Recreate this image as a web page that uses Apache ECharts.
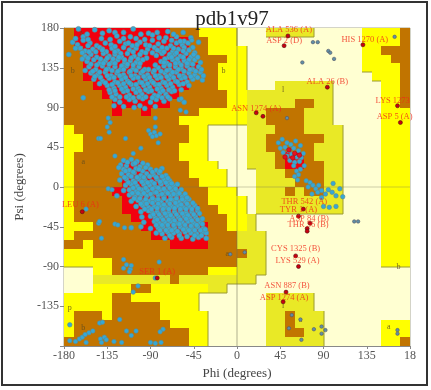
<!DOCTYPE html>
<html><head><meta charset="utf-8">
<style>html,body{margin:0;padding:0;background:#fff}#c{width:431px;height:390px;filter:blur(0.7px)}</style>
<script src="https://cdn.jsdelivr.net/npm/echarts@6/dist/echarts.min.js"></script>
</head><body><div id="c"></div>
<script>
const titleText = 'pdb1v97';
const xTickLabels = ['-180','-135','-90','-45','0','45','90','135','18'];
const yTickLabels = ['','-135','-90','-45','0','45','90','135','180'];
// 10-degree cells, top row psi 170..180, left column phi -180..-170
const regionRows = [
"BRRRRRRRRRRBBBYYYYPPPLLLLLPPPPPYYYYB",
"BRRRRRRRRRRRRBBYYYPPPPPPPPPPPPPYYYYB",
"BBRRRRRRRRRRRBBYYYYPPPPPPPPPPPPYYBBB",
"BBRRRRRRRRRRRBBBBYYPPPPPPPPPPPPYYYBB",
"BBRRRRRRRRRRRRBBYYYPPPPPPPPPPPPYYYYB",
"BBRRRRRRRRRRRBBBYYYPPPPPPPPPPPPPYYYB",
"BBBRRRRRRRRRRBBBYYYPPPLLLLLLPPPPPYYB",
"BBBBRRRRRRRRBBBBBYYLLLLLLLLLPPPPPYYB",
"BBBBBRRRRRRBBBBBBYYLLLLLBBLLPPPPPYYB",
"BBBBBRBBRBBBBBYYYYYLLBBBBLLLPPPPPYYY",
"BBBBBBBBBBBBYYYYYYYLLBBBBLLLPPPPPYYY",
"YBBBBBBBBBBBBYYPPPPLLLBBBLLLLPPPPYYY",
"YYBBBBBBBBBBBYYPPPPLLBBBBBBLLPPPPYYY",
"YYBBBBBBBBBBYYYPPPPLLBBBBBLLLPPPPYYY",
"YBBBBBBBBBBBYYYPPPPLLLBRRBLLLPPPPYYY",
"YBBBBBRRBBBBBYYYPPPLLLBRRBBLLPPPPYYY",
"YBBBBBRRRRBBBYYYYPPPLLLBBBBLLPPPPYYY",
"YBBBBBRRRRRBBBYYYPPPLLLLBBBLLPPPPYYY",
"YBBBBRRRRRRRBBBYYYPPLLLBLBBLLPPPPYYY",
"YBBBBBRRRRRRRBBYYYYPLLLLLLLLLPPPPYYY",
"YBBBBBRRRRRRRRBBYYYPLLLLLLLLLPPPPYYY",
"YBBBBBBRRRRRRRBBBYYLPPPPPPPPPPPPPYYY",
"YYYBBBBBRRRRRRRBBYYLPPPPPPPPPPPPPYYY",
"YBBBBBBBBRRRRRRBBBLLLPPPPPPPPPPPPYYY",
"BBYBBBBBBBBRRRRBBBLLLPPPPPPPPPPPPYYY",
"YYYBBBBBBBBBBBBBBBBLLPPPPPPPPPPPPYYY",
"YYYYYBBBBBBBBBBBBBLLLPPPPPPPPPPPPYYY",
"PPPYYBBBBBBBBBBYYYLLLPPPPPPPPPPPPPPP",
"PPPLLLLLLLLBLLLLLLLLPPPPPPPPPPPPPPPP",
"PPPYYYYBBYYYYYYLLPPPPPPPPPPPPPPPPPPP",
"YYYYYBBYYYYYYYPPPPPPPLLLLLPPPPPPPPPP",
"YYYYYBBBBBYYYYPPPPPPPLLLLLPPPPPPPPPP",
"YBBBYBBBBBYYYYYPPPPPPLLBLLLPPPPPPPPP",
"YBBBBBBBBBBYYYYPPPPPPLLBLLLPPPPPPYYY",
"YBBBBBBBBBBBBYYPPPPPPLLBBLLPPPPPPYYY",
"BBBBBBBBBBBBBYYPPPPPPLLLLLLPPPPPPYYB"];

const betaResidues = [
[-165,179],[-148,178],[-133,177],[-127,175],[-108,179],[-72,176],[-92,174],
[-160,170],[-125,171],[-111,170],[-105,168],[-88,172],[-74,169],[-63,170],[-48,169],
[-171,164],[-166,161],[-160,166],[-153,163],[-146,160],[-137,163],[-131,161],[-122,165],[-116,162],[-109,160],[-101,164],[-95,161],[-88,166],[-82,162],[-76,165],[-69,160],[-63,163],[-57,161],[-40,164],
[-175,150],[-163,157],[-158,154],[-150,156],[-143,158],[-136,153],[-130,157],[-124,154],[-118,158],[-112,155],[-105,157],[-99,153],[-93,156],[-86,158],[-80,154],[-73,157],[-67,153],[-61,156],[-55,158],
[-158,148],[-152,150],[-146,147],[-139,151],[-133,148],[-127,150],[-120,147],[-114,151],[-107,148],[-101,150],[-94,146],[-84,149],[-78,151],[-71,147],[-65,150],[-59,148],[-53,151],[-48,147],
[-156,142],[-149,144],[-143,140],[-137,143],[-130,141],[-124,144],[-117,140],[-111,143],[-105,141],[-98,144],[-79,142],[-73,140],[-67,144],[-61,141],[-55,143],[-49,140],[-44,144],
[-154,136],[-147,133],[-140,137],[-134,134],[-127,136],[-121,133],[-115,137],[-108,134],[-102,136],[-96,133],[-82,135],[-76,137],[-70,133],[-64,136],[-58,134],[-52,137],[-46,133],[-40,136],
[-152,129],[-145,127],[-137,130],[-131,126],[-125,129],[-118,127],[-112,130],[-106,126],[-100,129],[-93,127],[-87,130],[-81,126],[-75,129],[-69,127],[-63,130],[-56,126],[-50,129],[-44,127],[-38,130],
[-149,122],[-140,120],[-133,123],[-127,119],[-120,122],[-114,120],[-108,123],[-101,119],[-95,122],[-89,120],[-83,123],[-77,119],[-71,122],[-64,120],[-58,123],[-52,119],[-46,122],[-36,121],
[-135,115],[-128,112],[-122,115],[-116,113],[-110,116],[-103,112],[-97,115],[-91,113],[-85,116],[-79,112],[-73,115],[-67,113],[-60,116],
[-132,107],[-126,105],[-118,108],[-112,104],[-105,107],[-99,105],[-92,108],[-86,104],[-80,107],[-74,105],[-68,108],
[-127,99],[-122,96],[-112,99],[-106,97],[-98,100],[-90,96],[-84,99],[-76,97],[-70,100],[-60,99],
[-160,101],[-128,92],[-118,91],[-107,90],[-101,92],[-96,89],[-85,91],[-55,96]];

const betaResiduesDense = [
[-156,173],[-140,174],[-118,175],[-100,173],[-83,175],[-66,173],[-56,175],
[-168,168],[-155,167],[-141,168],[-132,167],[-118,168],[-96,167],[-81,169],[-68,166],[-55,165],
[-168,157],[-155,160],[-140,156],[-127,159],[-113,163],[-104,161],[-91,160],[-78,158],[-66,157],[-59,165],[-51,163],[-46,158],
[-161,152],[-154,153],[-147,153],[-140,155],[-127,153],[-121,151],[-108,153],[-95,152],[-88,152],[-83,155],[-76,153],[-70,150],[-63,152],[-56,154],[-50,155],[-44,152],
[-161,145],[-155,146],[-142,145],[-135,146],[-129,145],[-123,147],[-117,144],[-110,146],[-103,145],[-75,145],[-68,147],[-62,145],[-56,147],[-50,144],[-45,150],[-41,147],
[-152,139],[-146,138],[-139,140],[-133,139],[-127,140],[-120,137],[-114,139],[-108,138],[-101,140],[-85,138],[-76,141],[-70,138],[-64,140],[-58,138],[-52,140],[-46,139],[-38,141],
[-158,132],[-150,131],[-143,130],[-136,133],[-130,132],[-124,131],[-118,133],[-111,131],[-105,132],[-98,131],[-92,133],[-86,132],[-79,131],[-73,132],[-67,130],[-61,133],[-55,131],[-49,133],[-43,131],[-37,133],
[-148,125],[-142,124],[-135,126],[-128,124],[-122,126],[-116,124],[-110,126],[-103,124],[-97,125],[-91,124],[-85,126],[-79,124],[-73,125],[-66,124],[-60,126],[-54,124],[-48,125],[-41,124],[-35,126],
[-143,117],[-137,118],[-130,116],[-124,118],[-118,117],[-112,118],[-105,116],[-99,118],[-93,117],[-87,118],[-81,116],[-75,118],[-69,117],[-62,119],[-56,117],[-50,115],
[-133,110],[-127,109],[-120,111],[-114,109],[-108,111],[-101,109],[-95,110],[-89,109],[-83,111],[-77,109],[-71,110],[-65,109],[-58,110],
[-130,102],[-122,102],[-115,102],[-108,101],[-102,102],[-95,102],[-88,101],[-82,103],[-78,101],[-72,102]];

const alphaResidues = [
[-118,30],[-110,31],[-104,29],[-98,27],[-121,25],[-115,24],[-108,26],[-101,23],[-93,25],
[-118,20],[-112,19],[-105,21],[-98,18],[-90,20],[-84,19],[-78,21],
[-120,15],[-113,14],[-107,16],[-100,13],[-94,15],[-87,14],[-81,16],[-74,13],
[-122,8],[-115,9],[-108,7],[-102,9],[-96,8],[-89,6],[-83,9],[-76,8],[-70,7],
[-116,2],[-110,3],[-104,1],[-97,3],[-91,2],[-85,0],[-79,3],[-72,2],[-66,1],
[-118,-4],[-112,-3],[-105,-5],[-99,-3],[-93,-4],[-86,-6],[-80,-3],[-74,-5],[-68,-4],[-62,-5],
[-125,-10],[-112,-9],[-106,-11],[-100,-9],[-94,-10],[-88,-12],[-82,-9],[-76,-11],[-69,-10],[-63,-9],[-57,-11],
[-110,-16],[-103,-15],[-97,-17],[-91,-16],[-85,-15],[-79,-17],[-72,-16],[-66,-15],[-60,-17],[-54,-16],[-50,-14],
[-105,-22],[-98,-21],[-92,-23],[-86,-22],[-80,-21],[-74,-23],[-68,-22],[-62,-21],[-56,-23],[-50,-22],[-44,-21],
[-100,-28],[-92,-27],[-88,-29],[-83,-28],[-77,-27],[-71,-29],[-65,-28],[-59,-27],[-53,-29],[-47,-28],[-41,-27],
[-99,-34],[-90,-33],[-85,-35],[-79,-34],[-73,-33],[-67,-35],[-61,-34],[-55,-33],[-49,-35],[-43,-34],
[-97,-40],[-86,-39],[-81,-41],[-75,-40],[-69,-39],[-63,-41],[-57,-40],[-51,-39],[-45,-41],[-38,-40],
[-110,-46],[-100,-45],[-90,-47],[-82,-46],[-77,-45],[-71,-47],[-65,-46],[-59,-45],[-53,-47],[-47,-46],[-41,-45],[-35,-47],
[-84,-52],[-78,-53],[-72,-51],[-66,-52],[-60,-53],[-54,-51],[-48,-52],[-42,-53],[-36,-51],[-32,-52],
[-75,-58],[-68,-57],[-58,-58],[-46,-59],[-40,-57],[-32,-58]];

const alphaResiduesDense = [
[-114,28],[-106,27],[-123,22],[-116,18],[-108,17],[-102,20],[-95,22],[-88,17],[-80,18],
[-117,11],[-110,12],[-104,11],[-97,11],[-91,12],[-84,11],[-78,12],[-72,10],
[-113,5],[-106,5],[-99,6],[-93,5],[-86,4],[-80,6],[-74,5],[-68,4],[-62,3],
[-108,-1],[-102,-2],[-95,-1],[-88,-2],[-82,-1],[-76,-2],[-70,-1],[-64,-2],[-58,-3],
[-109,-7],[-103,-7],[-97,-7],[-90,-8],[-84,-6],[-78,-8],[-72,-7],[-66,-8],[-60,-7],[-54,-8],
[-107,-13],[-101,-13],[-95,-14],[-88,-13],[-82,-14],[-76,-13],[-69,-14],[-63,-13],[-57,-14],[-52,-12],
[-100,-19],[-94,-19],[-88,-18],[-82,-19],[-76,-20],[-70,-19],[-64,-18],[-58,-20],[-52,-19],[-46,-18],
[-96,-25],[-89,-25],[-83,-24],[-77,-25],[-71,-25],[-65,-24],[-59,-25],[-53,-25],[-47,-25],[-41,-24],
[-87,-31],[-81,-31],[-75,-30],[-69,-32],[-63,-31],[-57,-30],[-51,-32],[-45,-31],[-39,-30],
[-83,-37],[-77,-37],[-71,-37],[-65,-38],[-59,-37],[-53,-36],[-47,-38],[-41,-37],[-36,-36],
[-84,-43],[-78,-43],[-72,-43],[-66,-43],[-60,-42],[-54,-43],[-48,-44],[-42,-43],[-36,-42],
[-80,-49],[-74,-49],[-68,-49],[-62,-50],[-56,-48],[-50,-49],[-44,-49],[-38,-49],[-33,-48],
[-70,-55],[-60,-55],[-52,-56],[-44,-55],[-37,-55]];

const otherLeftResidues = [
[-134,78],[-132,73],[-135,68],[-133,62],[-144,55],[-142,55],[-116,55],[-85,78],[-92,64],[-90,60],[-86,62],[-84,58],[-80,60],[-88,57],[-85,68],[-82,50],[-100,44],[-108,38],[-127,35],[-59,87],[-53,85],[-58,100],[-47,166],
[-144,-41],[-143,-39],[-127,-42],[-124,-43],[-141,-58],[-157,-25],[-134,-2],[-130,-3],[-117,-46],
[-118,-82],[-118,-92],[-115,-88],[-111,-93],[-110,-89],[-112,-96],[-81,-85],[-85,-103],[-103,-112],[-108,-119],
[-174,-156],[-143,-154],[-140,-153],[-122,-150],[-154,-165],[-150,-163],[-115,-163],[-105,-163],[-110,-168],[-77,-161],[-80,-164],
[-174,-174],[-168,-175],[-164,-172],[-161,-170],[-158,-167],[-142,-172],[-138,-170],[-136,-173],[-141,-176],[-120,-176],[-128,-175],[-90,-176],[-85,-177],[-79,-176],[-157,-176]];

const leftHandedResidues = [
[43,50],[47,54],[52,50],[45,44],[50,45],[56,48],[61,52],[66,47],[48,39],[54,41],[59,44],[64,41],[69,38],[52,35],[57,37],[62,34],[67,33],[55,30],[60,28],[65,29],[59,24],[62,18],[64,14],[60,12],[63,8],[66,20],[70,24],
[72,7],[76,5],[79,2],[74,0],[82,-2],[84,-6],[78,-8],[88,-4],[92,-8],[95,-3],[99,-6],[103,-10],[110,-11],[88,-12],[90,-22],[96,-23],[103,-22],[85,2],[100,4],[107,-2]];

const sparseResidues = [
[79,164],[84,164],[95,154],[97,152],[101,145],[68,141],[164,170],[52,78],
[167,-162],[167,-166],[88,-158],[92,-162],[88,-166],[80,-161],[66,-150],[67,-173],[57,-145],[54,-160],[8,-74],[122,-39],[126,-39],[-7,-76]];

const coreRedResidues = [[54,42],[60,38],[65,36],[58,33],[50,34]];

const outlierResidues = [
[53,171],[49,160],[94,113],[131,161],[170,73],[167,92],[27,80],[20,84],
[69,-25],[64,-33],[76,-41],[73,-47],[73,-50],[61,-78],[64,-90],[51,-119],[48,-130],[-161,-28],[-83,-103]];

const residueLabels = [
['ALA 536 (A)',54,178],['ASP 2 (D)',49,165],['HIS 1270 (A)',133,167],['ALA 26 (B)',94,119],['ASN 1274 (A)',20,89],
['LYS 1273',162,98],['ASP 5 (A)',164,79],['LEU 6 (A)',-163,-20],['THR 542 (A)',70,-17],['TYR 1 (A)',64,-26],
['ASP 84 (B)',75,-36],['THR 56 (B)',74,-43],['CYS 1325 (B)',61,-70],['LYS 529 (A)',63,-83],['ASN 887 (B)',52,-112],
['ASP 1274 (A)',49,-125],['SER 1 (A)',-83,-96]];

const regionLetters = [['b',-171,131],['A',-162,172],['a',-160,28],['b',-14,131],['l',48,110],['p',-174,-137],['b',-160,-160],['a',66,-150],['l',48,-135],['b',168,-90],['a',158,-158],['a',-10,-76]];

const regionColours = {R:'#f2000f',B:'#c17400',Y:'#ffff00',L:'#e9e926',P:'#ffffd2'};

const cells = [], edges = [];
regionRows.forEach((row, r) => {
  for (let c = 0; c < 36; c++) {
    const k = row[c] || 'P';
    const phi = -180 + c*10, psi = 180 - r*10;
    cells.push([phi, psi, k]);
    if (k !== 'P') {
      if (c < 35 && row[c+1] === 'P') edges.push([phi+10, psi, phi+10, psi-10]);
      if (r < 35 && regionRows[r+1][c] === 'P') edges.push([phi, psi-10, phi+10, psi-10]);
    }
  }
});

const pts = (data, color, border, size, z) => ({type:'scatter', data, symbolSize:size, z, silent:true,
  itemStyle:{color, borderColor:border, borderWidth:0.6, opacity:1}});

const chart = echarts.init(document.getElementById('c'), null, {renderer:'canvas'});
chart.setOption({
  animation:false,
  backgroundColor:'#fff',
  title:{text:titleText, left:227, top:4, textAlign:'center',
    textStyle:{fontFamily:'Liberation Serif', fontSize:21, fontWeight:'normal', color:'#222'}},
  grid:{left:64, right:21, top:28, bottom:44, show:true, borderColor:'#a8a890', borderWidth:1, backgroundColor:'transparent'},
  xAxis:{type:'value', min:-180, max:180, interval:45, name:'Phi (degrees)', nameLocation:'middle', nameGap:19,
    nameTextStyle:{fontFamily:'Liberation Serif', fontSize:13, color:'#444'},
    splitLine:{show:false}, axisLine:{onZero:false, lineStyle:{color:'#888'}}, axisTick:{length:3, lineStyle:{color:'#888'}},
    axisLabel:{fontFamily:'Liberation Serif', fontSize:12, color:'#555', margin:4,
      formatter:(v)=>xTickLabels[(v+180)/45]}},
  yAxis:{type:'value', min:-180, max:180, interval:45, name:'Psi (degrees)', nameLocation:'middle', nameGap:32,
    nameTextStyle:{fontFamily:'Liberation Serif', fontSize:13, color:'#444'},
    splitLine:{show:false}, axisLine:{onZero:false, lineStyle:{color:'#888'}}, axisTick:{length:4, lineStyle:{color:'#888'}},
    axisLabel:{fontFamily:'Liberation Serif', fontSize:12, color:'#555', margin:5,
      formatter:(v)=>yTickLabels[(v+180)/45]}},
  graphic:[{type:'rect', z:100, shape:{x:2,y:2,width:425,height:383}, style:{fill:'none', stroke:'#333', lineWidth:2}}],
  series:[
    {type:'custom', z:1, silent:true, data:cells, clip:true,
     renderItem:(p, api)=>{
       const a = api.coord([api.value(0), api.value(1)]), b = api.coord([api.value(0)+10, api.value(1)-10]);
       const x = Math.round(a[0]), y = Math.round(a[1]);
       return {type:'rect', shape:{x, y, width:Math.round(b[0])-x, height:Math.round(b[1])-y},
         style:{fill:regionColours[cells[p.dataIndex][2]]}};
     }},
    {type:'custom', z:2, silent:true, data:edges, clip:true,
     renderItem:(p, api)=>{
       const a = api.coord([api.value(0), api.value(1)]), b = api.coord([api.value(2), api.value(3)]);
       return {type:'line', shape:{x1:Math.round(a[0]), y1:Math.round(a[1]), x2:Math.round(b[0]), y2:Math.round(b[1])},
         style:{stroke:'#9a9a30', lineWidth:1}};
     }},
    {type:'line', z:3, silent:true, symbol:'none', data:[[0,-180],[0,180]], lineStyle:{color:'rgba(110,110,90,0.55)', width:1}},
    {type:'line', z:3, silent:true, symbol:'none', data:[[-180,0],[180,0]], lineStyle:{color:'rgba(110,110,90,0.35)', width:1}},
    pts(betaResidues,'#35a8d6','#5f8a8f',5,5),
    pts(betaResiduesDense,'#35a8d6','#5f8a8f',5,5),
    pts(alphaResidues,'#35a8d6','#5f8a8f',5,5),
    pts(alphaResiduesDense,'#35a8d6','#5f8a8f',5,5),
    pts(otherLeftResidues,'#35a8d6','#5f8a8f',4.5,5),
    pts(leftHandedResidues,'#35a8d6','#5f8a8f',4.5,5),
    pts(sparseResidues,'#5f8fa6','#556',3.5,5),
    pts(coreRedResidues,'#e8101f','#a01018',4.5,6),
    pts(outlierResidues,'#c80010','#501010',4,6),
    {type:'scatter', z:7, silent:true, symbolSize:0, data:residueLabels.map(d=>({name:d[0], value:[d[1],d[2]]})),
     label:{show:true, position:'inside', formatter:'{b}', fontFamily:'Liberation Serif', fontSize:8.5, color:'#f02818'}},
    {type:'scatter', z:4, silent:true, symbolSize:0, data:regionLetters.map(d=>({name:d[0], value:[d[1],d[2]]})),
     label:{show:true, position:'inside', formatter:'{b}', fontFamily:'Liberation Serif', fontSize:8, color:'#5a4a20'}}
  ]
});
</script></body></html>
